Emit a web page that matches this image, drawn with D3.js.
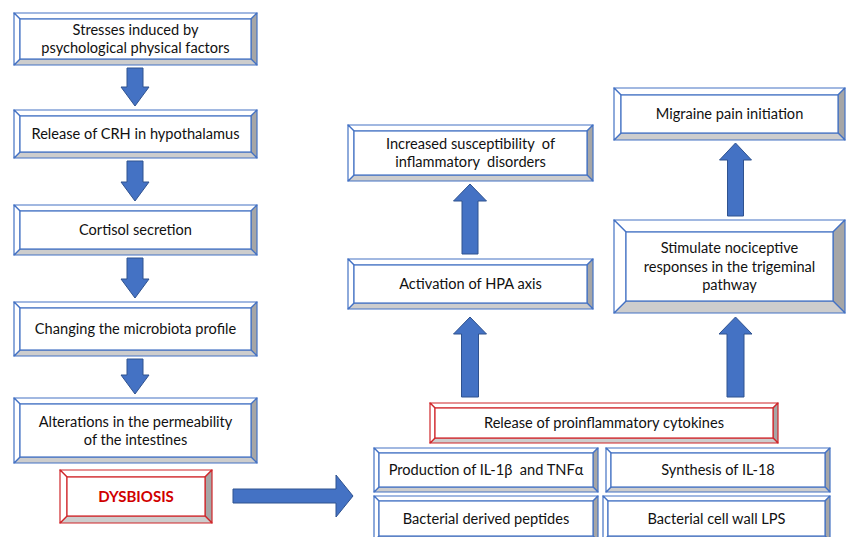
<!DOCTYPE html>
<html>
<head>
<meta charset="utf-8">
<script src="https://cdn.jsdelivr.net/npm/d3@7"></script>
<style>
  body { margin: 0; background: #fff; }
  svg { display: block; }
  text { white-space: pre; }
</style>
</head>
<body>
<div id="flow"></div>
<script>
// labels of the boxes
const leftSteps = [
  ["Stresses induced by", "psychological physical factors"],
  ["Release of CRH in hypothalamus"],
  ["Cortisol secretion"],
  ["Changing the microbiota profile"],
  ["Alterations in the permeability", "of the intestines"]
];
const dysbiosisLabel = ["DYSBIOSIS"];
const cytokineLabel = ["Release of proinflammatory cytokines"];
const sourceLabels = [
  ["Production of IL-1\u03b2  and TNF\u03b1"],
  ["Synthesis of IL-18"],
  ["Bacterial derived peptides"],
  ["Bacterial cell wall LPS"]
];
const hpaPath = [
  ["Activation of HPA axis"],
  ["Increased susceptibility  of", "inflammatory  disorders"]
];
const painPath = [
  ["Stimulate nociceptive", "responses in the trigeminal", "pathway"],
  ["Migraine pain initiation"]
];

// layout (x, y, w, h, bevel)
const leftLayout = [
  {x:14, y:13,  w:243, h:52, b:6},
  {x:14, y:110, w:243, h:48, b:6},
  {x:14, y:205, w:243, h:50, b:6},
  {x:14, y:302, w:243, h:54, b:6},
  {x:14, y:398, w:243, h:65, b:6}
];
const dysLayout = {x:60, y:470, w:152, h:53, b:7};
const cytoLayout = {x:430, y:403, w:348, h:40, b:5};
const sourceLayout = [
  {x:374, y:448, w:224, h:44, b:5},
  {x:606, y:448, w:224, h:44, b:5},
  {x:374, y:496, w:224, h:45, b:5},
  {x:603, y:496, w:227, h:45, b:5}
];
const hpaLayout = [
  {x:348, y:259, w:245, h:50, b:6},
  {x:348, y:125, w:245, h:56, b:6}
];
const painLayout = [
  {x:614, y:220, w:231, h:93, b:12},
  {x:614, y:88,  w:231, h:52, b:7}
];

const W = 850, H = 537;
const blue = "#4472c4", red = "#d0262a";

const svg = d3.select("#flow").append("svg")
  .attr("width", W).attr("height", H)
  .attr("viewBox", [0, 0, W, H]);

const drawBox = (g, lay, lines, opt = {}) => {
  const {x, y, w, h, b} = lay;
  const stroke = opt.stroke || blue;
  const o = [[x, y], [x + w, y], [x + w, y + h], [x, y + h]];
  const i = [[x + b, y + b], [x + w - b, y + b], [x + w - b, y + h - b], [x + b, y + h - b]];
  const faces = [
    {pts: [o[0], o[1], i[1], i[0]], fill: "#ffffff"},
    {pts: [o[1], o[2], i[2], i[1]], fill: "#a6a6a6"},
    {pts: [o[3], o[2], i[2], i[3]], fill: "#cdcdcd"},
    {pts: [o[0], o[3], i[3], i[0]], fill: "#ffffff"}
  ];
  const box = g.append("g");
  box.selectAll("polygon").data(faces).enter().append("polygon")
    .attr("points", d => d.pts.map(p => p.join(",")).join(" "))
    .attr("fill", d => d.fill)
    .attr("stroke", stroke)
    .attr("stroke-width", 1.2)
    .attr("stroke-linejoin", "round");
  box.append("rect")
    .attr("x", i[0][0]).attr("y", i[0][1])
    .attr("width", w - 2 * b).attr("height", h - 2 * b)
    .attr("fill", "#fff").attr("stroke", stroke).attr("stroke-width", 1.2);
  const lh = opt.lineHeight || 18;
  const cx = x + w / 2, cy = y + h / 2;
  box.append("text")
    .attr("text-anchor", "middle")
    .attr("font-family", "Lato, 'Open Sans', sans-serif")
    .attr("font-size", opt.size || 14.6)
    .attr("font-weight", opt.weight || "normal")
    .attr("fill", opt.color || "#111")
    .selectAll("tspan").data(lines).enter().append("tspan")
    .attr("x", cx)
    .attr("y", (d, k) => cy + (k - (lines.length - 1) / 2) * lh)
    .attr("dy", "0.35em")
    .text(d => d);
};

// block arrow from (x0,y0) to (x1,y1)
const arrowPath = (x0, y0, x1, y1, shaft, head, headLen) => {
  const len = Math.hypot(x1 - x0, y1 - y0);
  const ux = (x1 - x0) / len, uy = (y1 - y0) / len;
  const px = -uy, py = ux;
  const s = shaft / 2, hw = head / 2;
  const bx = x1 - ux * headLen, by = y1 - uy * headLen;
  const pts = [
    [x0 + px * s, y0 + py * s],
    [bx + px * s, by + py * s],
    [bx + px * hw, by + py * hw],
    [x1, y1],
    [bx - px * hw, by - py * hw],
    [bx - px * s, by - py * s],
    [x0 - px * s, y0 - py * s]
  ];
  return d3.line()(pts) + "Z";
};

const arrows = [];
// left column downward arrows
leftLayout.slice(0, -1).forEach((d, k) => {
  const nxt = leftLayout[k + 1];
  arrows.push({x0: d.x + d.w / 2 - 0.5, y0: d.y + d.h + 3, x1: d.x + d.w / 2 - 0.5, y1: nxt.y - 4, s: 16, hw: 28, hl: 19});
});
// horizontal arrow from dysbiosis
arrows.push({x0: 233, y0: 496, x1: 353, y1: 496, s: 14, hw: 42, hl: 17});
// upward arrows
const midX = hpaLayout[0].x + hpaLayout[0].w / 2 - 0.5;
const rightX = painLayout[0].x + painLayout[0].w / 2 + 6;
arrows.push({x0: midX, y0: cytoLayout.y - 6, x1: midX, y1: hpaLayout[0].y + hpaLayout[0].h + 8, s: 17, hw: 33, hl: 17});
arrows.push({x0: midX, y0: hpaLayout[0].y - 5, x1: midX, y1: hpaLayout[1].y + hpaLayout[1].h + 3, s: 16, hw: 33, hl: 17});
arrows.push({x0: rightX, y0: cytoLayout.y - 6, x1: rightX, y1: painLayout[0].y + painLayout[0].h + 4, s: 17, hw: 33, hl: 17});
arrows.push({x0: rightX, y0: painLayout[0].y - 4, x1: rightX, y1: painLayout[1].y + painLayout[1].h + 3, s: 16, hw: 32, hl: 17});

svg.append("g").selectAll("path").data(arrows).enter().append("path")
  .attr("d", d => arrowPath(d.x0, d.y0, d.x1, d.y1, d.s, d.hw, d.hl))
  .attr("fill", "#4472c4")
  .attr("stroke", "#2f528f")
  .attr("stroke-width", 1);

const boxes = svg.append("g");
leftLayout.forEach((lay, k) => drawBox(boxes, lay, leftSteps[k]));
drawBox(boxes, dysLayout, dysbiosisLabel, {stroke: red, color: "#d00000", weight: "bold", size: 15});
drawBox(boxes, cytoLayout, cytokineLabel, {stroke: red});
sourceLayout.forEach((lay, k) => drawBox(boxes, lay, sourceLabels[k]));
hpaLayout.forEach((lay, k) => drawBox(boxes, lay, hpaPath[k]));
painLayout.forEach((lay, k) => drawBox(boxes, lay, painPath[k], {lineHeight: 18.5}));
</script>
</body>
</html>
